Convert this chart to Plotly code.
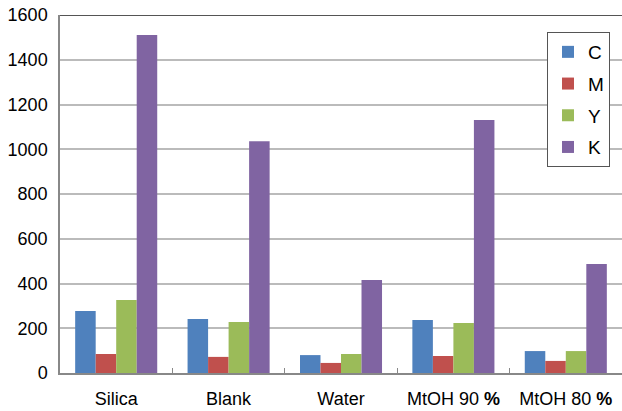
import plotly.graph_objects as go

# Sample groups on the x axis
categories = ["Silica", "Blank", "Water", "MtOH 90 <b>%</b>", "MtOH 80 <b>%</b>"]

# Measured values per ink channel
c_values = [277, 241, 80, 237, 98]
m_values = [85, 72, 45, 76, 54]
y_values = [326, 228, 85, 223, 98]
k_values = [1511, 1036, 416, 1131, 487]

series_names = ["C", "M", "Y", "K"]
series_colors = ["#4F81BD", "#C0504D", "#9BBB59", "#8064A2"]
series_values = [c_values, m_values, y_values, k_values]

fig = go.Figure()
for name, color, vals in zip(series_names, series_colors, series_values):
    fig.add_trace(go.Bar(
        x=categories, y=vals, name=name, legendgroup=name,
        marker=dict(color=color, line=dict(width=0)),
    ))

font_family = "Liberation Sans, Arial, sans-serif"

fig.update_layout(
    width=622, height=411,
    margin=dict(l=60, r=0, t=15, b=38),
    paper_bgcolor="white", plot_bgcolor="white",
    barmode="group", bargap=0.27, bargroupgap=0,
    font=dict(family=font_family, size=18, color="black"),
    showlegend=True,
    legend=dict(
        x=0.8665, y=0.9525, xanchor="left", yanchor="top",
        bgcolor="white", bordercolor="#555555", borderwidth=1,
        font=dict(family=font_family, size=19, color="black"),
        traceorder="grouped", tracegroupgap=4,
    ),
    xaxis=dict(
        showline=True, linecolor="#888888", linewidth=1.5,
        ticks="inside", ticklen=5, tickcolor="#888888", tickwidth=1,
        tickson="boundaries", showgrid=False, ticklabelstandoff=9,
        tickfont=dict(size=18),
    ),
    yaxis=dict(
        range=[0, 1600], dtick=200, tick0=0,
        showline=True, linecolor="#888888", linewidth=1.5,
        showgrid=True, gridcolor="#BBBBBB", gridwidth=1.5,
        ticks="", ticklabelstandoff=7, zeroline=False,
        tickfont=dict(size=18),
    ),
)

# Dark frame line along the top of the plot area
fig.add_shape(type="line", xref="paper", yref="y", x0=0, x1=1, y0=1600, y1=1600,
              line=dict(color="#555555", width=2))

fig.write_html("out.html")
